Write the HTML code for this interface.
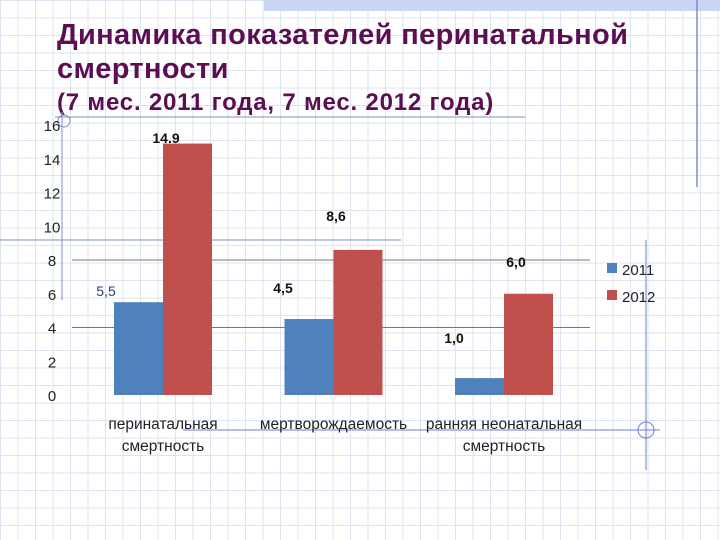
<!DOCTYPE html>
<html><head><meta charset="utf-8"><style>
body{margin:0}
#c{position:relative;width:720px;height:540px;overflow:hidden;background-color:#fff;
background-image:linear-gradient(#dde4ef 1px,transparent 1px),linear-gradient(90deg,#dde4ef 1px,transparent 1px);
background-size:17.5px 17.5px;font-family:"Liberation Sans","DejaVu Sans",sans-serif}
.t{position:absolute;left:57px;color:#5b0f52;font-weight:bold;white-space:nowrap}
</style></head><body>
<div id="c">
<div style="position:absolute;left:264px;top:0;width:456px;height:11px;background:#c9d6f5"></div>
<div class="t" style="top:19px;font-size:29px;letter-spacing:0.35px">Динамика показателей перинатальной</div>
<div class="t" style="top:53px;font-size:29px;letter-spacing:0.35px">смертности</div>
<div class="t" style="top:89px;font-size:24px;letter-spacing:0.8px">(7 мес. 2011 года, 7 мес. 2012 года)</div>
<svg id="s" width="720" height="540" style="position:absolute;left:0;top:0"></svg>
</div>
<script>
const categories=[["перинатальная","смертность"],["мертворождаемость"],["ранняя неонатальная","смертность"]];
const series2011=[5.5,4.5,1.0];
const series2012=[14.9,8.6,6.0];
const labels2011=["5,5","4,5","1,0"];
const labels2012=["14.9","8,6","6,0"];
const ticks=[0,2,4,6,8,10,12,14,16];
const NS="http://www.w3.org/2000/svg",s=document.getElementById('s');
function y(v){return 395-v*16.875}
function x(i){return 163+i*170.5}
function el(t,a,txt){const e=document.createElementNS(NS,t);for(const k in a)e.setAttribute(k,a[k]);if(txt!=null)e.textContent=txt;s.appendChild(e);return e}
let d;
d=el('line',{x1:55,y1:117,x2:525,y2:117,stroke:'#7d8fc8','stroke-width':1});
d=el('line',{x1:0,y1:240,x2:401,y2:240,stroke:'#7d8fc8','stroke-width':1});
d=el('line',{x1:62,y1:112,x2:62,y2:300,stroke:'#7d8fc8','stroke-width':1});
d=el('line',{x1:697,y1:0,x2:697,y2:187,stroke:'#7d8fc8','stroke-width':1.5});
d=el('line',{x1:183,y1:430,x2:660,y2:430,stroke:'#6a7dd0','stroke-width':1});
d=el('line',{x1:646,y1:240,x2:646,y2:470,stroke:'#6a7dd0','stroke-width':1});
d=el('circle',{cx:646,cy:430,r:8,fill:'none',stroke:'#6a7dd0'});
d=el('circle',{cx:64,cy:121,r:6,fill:'none',stroke:'#7d8fc8'});
[4,8].forEach(v=>{const g=el('line',{x1:72,y1:y(v),x2:590,y2:y(v),stroke:'#777','stroke-width':1});});
ticks.forEach(v=>{const t=el('text',{x:52,y:y(v)+6,'text-anchor':'middle','font-size':15,fill:'#222'},String(v));});
categories.forEach((c,i)=>{
 let b=el('rect',{x:x(i)-49,y:y(series2011[i]),width:49,height:y(0)-y(series2011[i]),fill:'#4f81bd'});
 
 b=el('rect',{x:x(i),y:y(series2012[i]),width:49,height:y(0)-y(series2012[i]),fill:'#c0504d'});
 
 c.forEach((ln,j)=>{const t=el('text',{x:x(i),y:429+j*22,'text-anchor':'middle','font-size':15.5,fill:'#222'},ln);});
});
const pos2011=[[106,296],[283,293],[454,343]],pos2012=[[166,143],[336,221],[516,267]];
labels2011.forEach((l,i)=>{const t=el('text',{x:pos2011[i][0],y:pos2011[i][1],'text-anchor':'middle','font-size':14,'font-weight':i==0?'normal':'bold',fill:i==0?'#2e3a82':'#111'},l);});
labels2012.forEach((l,i)=>{const t=el('text',{x:pos2012[i][0],y:pos2012[i][1],'text-anchor':'middle','font-size':14,'font-weight':'bold',fill:'#111'},l);});
let lg=el('rect',{x:607,y:263,width:10,height:10,fill:'#4f81bd'});
lg=el('text',{x:622,y:275,'font-size':15,fill:'#222'},'2011');
lg=el('rect',{x:607,y:290,width:10,height:10,fill:'#c0504d'});
lg=el('text',{x:622,y:302,'font-size':15,fill:'#222'},'2012');
</script>
</body></html>
